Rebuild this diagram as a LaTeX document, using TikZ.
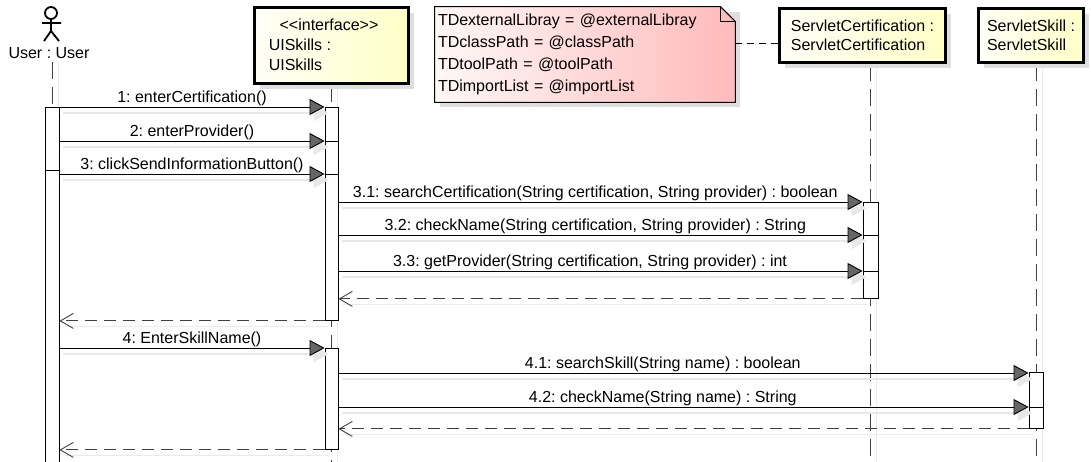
\documentclass[tikz,border=0pt]{standalone}
\usepackage{fontspec}
\setmainfont{Liberation Sans}
\usetikzlibrary{arrows.meta}
\usetikzlibrary{shadows}
\usetikzlibrary{backgrounds}
\frenchspacing

\begin{document}
\begin{tikzpicture}[x=1pt,y=-1pt, line width=0.9pt,
        font=\fontsize{16}{19}\selectfont,
        obj/.style={draw=black, line width=3pt, inner sep=0pt, align=left,
                    left color=yellow!3, right color=yellow!22,
                    drop shadow={shadow xshift=5pt, shadow yshift=-5pt, fill=black!13, opacity=1}},
        act/.style={draw=black, fill=white, inner sep=0pt, anchor=north},
        life/.style={draw=black!75, dash pattern=on 17pt off 8pt,
                     preaction={draw=black!8, solid, transform canvas={xshift=6pt}}},
        call/.style={draw=black, -{Triangle[length=15pt,width=16pt,fill=black!60]},
                     preaction={draw=black!9, line width=1.5pt, -{Triangle[length=15pt,width=16pt,fill=black!9]},
                                transform canvas={shift={(4pt,-6pt)}}}},
        ret/.style={draw=black!75, dash pattern=on 12pt off 7pt, -{Straight Barb[length=13pt,width=15pt]},
                    preaction={draw=black!8, solid, -, transform canvas={shift={(4pt,-6pt)}}}},
        msg/.style={anchor=base, yshift=4.5pt}
    ]
        \useasboundingbox (0,0) rectangle (1091,461);
        \clip (0,0) rectangle (1091,461);

        \foreach \n/\y in {1/107, 2/141, 3/174, 31/202, 32/235, 33/271, 4/348, 41/373, 42/407, d/170, L/43}
            \coordinate (y\n) at (0,\y);

        % actor
        \draw[line width=1.8pt] (51,13) circle (6);
        \draw[line width=1.8pt] (51,19) -- (51,31) (42,23) -- (61,23)
                                (51,31) -- (44,41) (51,31) -- (59,41);
        \node (U) at (49,53) {User : User};

        % objects
        \node[obj, minimum width=154pt, minimum height=76pt] (I) at (331.5,45.5) {};
        \node (Ist) at (329,25) {<\kern0pt<interface>\kern0pt>};
        \node[anchor=west] (In1) at (265,45) {UISkills :};
        \node[anchor=west] (In2) at (265,65) {UISkills};
        \node[obj, minimum width=166pt, minimum height=54pt] (SC) at (862.5,35.5)
                {ServletCertification :\\ServletCertification};
        \node[obj, minimum width=105pt, minimum height=54pt] (SS) at (1031,35.5)
                {ServletSkill :\\ServletSkill};

        % note
        \node[text width=294pt, minimum height=95pt, inner xsep=3pt, inner ysep=0pt, align=left,
              font=\fontsize{16}{22}\selectfont] (N) at (585,54.5)
                {TDexternalLibray = @externalLibray\\TDclassPath = @classPath\\
                 TDtoolPath = @toolPath\\TDimportList = @importList};
        \begin{scope}[on background layer]
            \fill[black!13, transform canvas={shift={(5pt,-5pt)}}] (N.north west) -- (N.north east)
                 -- (N.south east) -- (N.south west) -- cycle;
            \draw[line width=1pt, left color=red!3, right color=red!27] (N.north west) -- ([xshift=-15pt]N.north east)
                 -- ([yshift=-15pt]N.north east) -- (N.south east) -- (N.south west) -- cycle;
            \draw ([xshift=-15pt]N.north east) |- ([yshift=-15pt]N.north east);
        \end{scope}
        \draw[dash pattern=on 7pt off 5pt] (N.east |- yL) -- (SC.west |- yL);

        % activations
        \node[act, minimum width=14pt, minimum height=363pt] (Ua) at (52,107) {};
        \node[act, minimum width=13pt, minimum height=213pt] (Ia1) at (331.5,107) {};
        \node[act, minimum width=13pt, minimum height=101pt] (Ia2) at (331.5,348) {};
        \node[act, minimum width=15pt, minimum height=96pt] (SCa) at (870.5,202) {};
        \node[act, minimum width=14pt, minimum height=56pt] (SSa) at (1036,372) {};

        % lifelines
        \begin{scope}[on background layer]
            \draw[life] (U.south -| Ua.north) -- (Ua.north);
            \draw[life] (I.south) -- (Ia2.south) -- ++(0,20);
            \draw[life] (SC.south -| SCa.north) -- ++(0,410);
            \draw[life] (SS.south -| SSa.north) -- ++(0,410);
        \end{scope}

        \draw (Ua.west |- yd) -- (Ua.east |- yd);
        \draw (Ia1.west |- y2) -- (Ia1.east |- y2);
        \draw (Ia1.west |- y3) -- (Ia1.east |- y3);
        \draw (SCa.west |- y32) -- (SCa.east |- y32);
        \draw (SCa.west |- y33) -- (SCa.east |- y33);
        \draw (SSa.west |- y42) -- (SSa.east |- y42);

        % messages
        \draw[call] (Ua.east |- y1) -- node[msg] {1: enterCertification()} (Ia1.west |- y1);
        \draw[call] (Ua.east |- y2) -- node[msg] {2: enterProvider()} (Ia1.west |- y2);
        \draw[call] (Ua.east |- y3) -- node[msg] {3: clickSendInformationButton()} (Ia1.west |- y3);
        \draw[call] (Ia1.east |- y31) -- node[msg, pos=0.49]
                {3.1: searchCertification(String certification, String provider) : boolean} (SCa.west |- y31);
        \draw[call] (Ia1.east |- y32) -- node[msg, pos=0.49]
                {3.2: checkName(String certification, String provider) : String} (SCa.west |- y32);
        \draw[call] (Ia1.east |- y33) -- node[msg, pos=0.48]
                {3.3: getProvider(String certification, String provider) : int} (SCa.west |- y33);
        \draw[ret] (SCa.south west) -- (Ia1.east |- SCa.south);
        \draw[ret] (Ia1.south west) -- (Ua.east |- Ia1.south);
        \draw[call] (Ua.east |- y4) -- node[msg] {4: EnterSkillName()} (Ia2.west |- y4);
        \draw[call] (Ia2.east |- y41) -- node[msg, pos=0.47] {4.1: searchSkill(String name) : boolean} (SSa.west |- y41);
        \draw[call] (Ia2.east |- y42) -- node[msg, pos=0.47] {4.2: checkName(String name) : String} (SSa.west |- y42);
        \draw[ret] (SSa.south west) -- (Ia2.east |- SSa.south);
        \draw[ret] (Ia2.south west) -- (Ua.east |- Ia2.south);

    \end{tikzpicture}
\end{document}
